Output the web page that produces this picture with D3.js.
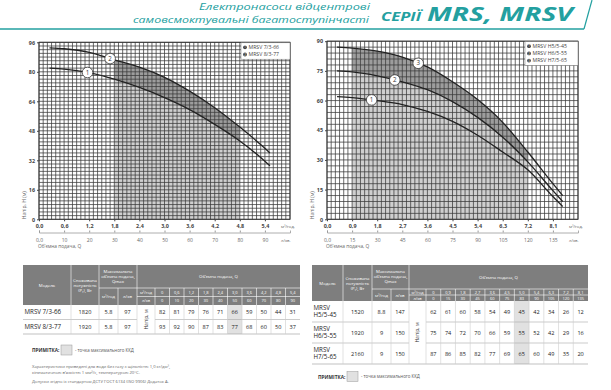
<!DOCTYPE html>
<html>
<head>
<meta charset="utf-8">
<script src="https://cdn.jsdelivr.net/npm/d3@7"></script>
<style>
  body { margin: 0; background: #fff; }
  svg text { font-family: 'Open Sans', sans-serif; }
</style>
</head>
<body>
<div id="chart"></div>
<script>
// ---- left block: MRSV 7/3-66, 8/3-77
const leftModels = ['MRSV 7/3-66', 'MRSV 8/3-77'];
const leftPower = ['1820', '1920'];
const leftQmaxM3 = ['5.8', '5.8'];
const leftQmaxL = ['97', '97'];
const leftQm3 = ['0', '0,6', '1,2', '1,8', '2,4', '3,0', '3,6', '4,2', '4,8', '5,4'];
const leftQl = ['0', '10', '20', '30', '40', '50', '60', '70', '80', '90'];
const leftHead = [
  [82, 81, 79, 76, 71, 66, 59, 50, 44, 31],
  [93, 92, 90, 87, 83, 77, 68, 60, 50, 37]
];
// curves
const leftCurveQ = [0.25, 0.6, 1.2, 1.8, 2.4, 3.0, 3.6, 4.2, 4.8, 5.4, 5.52];
const leftCurveH = [
  [82, 81.5, 79.5, 76, 71.5, 66, 59.5, 51.5, 42.5, 31.5, 29],
  [93, 92.5, 90.5, 86.5, 82.5, 77, 69.5, 60.5, 50, 38.5, 36]
];
const leftLabelQ = [1.16, 1.70];
const leftXTicks = [0, 0.6, 1.2, 1.8, 2.4, 3.0, 3.6, 4.2, 4.8, 5.4];
const leftLTicks = [0, 10, 20, 30, 40, 50, 60, 70, 80, 90];
const leftYTicks = [0, 16, 32, 48, 64, 80, 96];

// ---- right block: MRSV H5/5-45, H6/5-55, H7/5-65
const rightModels = [['MRSV', 'H5/5-45'], ['MRSV', 'H6/5-55'], ['MRSV', 'H7/5-65']];
const rightPower = ['1520', '1920', '2160'];
const rightQmaxM3 = ['8.8', '9', '9'];
const rightQmaxL = ['147', '150', '150'];
const rightQm3 = ['0', '0,9', '1,8', '2,7', '3,6', '4,5', '5,0', '5,4', '6,3', '7,2', '8,1'];
const rightQl = ['0', '15', '30', '45', '60', '75', '83', '90', '105', '120', '135'];
const rightHead = [
  [62, 61, 60, 58, 54, 49, 45, 42, 34, 26, 12],
  [75, 74, 72, 70, 66, 59, 55, 52, 42, 29, 16],
  [87, 86, 85, 82, 77, 69, 65, 60, 49, 35, 20]
];
const rightCurveQ = [0.36, 0.9, 1.8, 2.7, 3.6, 4.5, 5.4, 6.3, 7.2, 8.1, 8.45];
const rightCurveH = [
  [62, 61.5, 60, 58, 54.5, 49.5, 42.5, 34, 25, 11.5, 6.5],
  [75, 74.5, 72.5, 69.5, 65.5, 59.5, 51.5, 41.5, 29, 14.5, 9],
  [87, 86.5, 85, 82, 77, 69.5, 60.5, 49, 34, 18, 12]
];
const rightLabelQ = [1.60, 2.43, 3.27];
const rightXTicks = [0, 0.9, 1.8, 2.7, 3.6, 4.5, 5.4, 6.3, 7.2, 8.1];
const rightLTicks = [0, 15, 30, 45, 60, 75, 90, 105, 120, 135];
const rightYTicks = [0, 15, 30, 45, 60, 75, 90];

const teal = '#23a0a0';
const svg = d3.select('#chart').append('svg')
  .attr('width', 611)
  .attr('height', 390);

// ---- page header
svg.append('text').attr('x', 370).attr('y', 10).attr('text-anchor', 'end')
  .attr('font-style', 'italic').attr('font-size', 9.3).attr('fill', teal)
  .attr('textLength', 171).attr('lengthAdjust', 'spacingAndGlyphs')
  .text('Електронасоси відцентрові');
svg.append('text').attr('x', 369).attr('y', 22.7).attr('text-anchor', 'end')
  .attr('font-style', 'italic').attr('font-size', 9.3).attr('fill', teal)
  .attr('textLength', 236).attr('lengthAdjust', 'spacingAndGlyphs')
  .text('самовсмоктувальні багатоступінчасті');
svg.append('text').attr('x', 381).attr('y', 20.5)
  .attr('font-style', 'italic').attr('font-weight', 'bold').attr('font-size', 12).attr('fill', teal)
  .attr('textLength', 40).attr('lengthAdjust', 'spacingAndGlyphs')
  .text('СЕРІЇ');
svg.append('text').attr('x', 427).attr('y', 20.5)
  .attr('font-style', 'italic').attr('font-weight', 'bold').attr('font-size', 20).attr('fill', teal)
  .attr('textLength', 146).attr('lengthAdjust', 'spacingAndGlyphs')
  .text('MRS, MRSV');
svg.append('line').attr('x1', 0).attr('x2', 584).attr('y1', 29).attr('y2', 29)
  .attr('stroke', teal).attr('stroke-width', 1.5);
svg.append('line').attr('x1', 592).attr('x2', 584).attr('y1', 0).attr('y2', 29)
  .attr('stroke', teal).attr('stroke-width', 1.2);

const fmtQ = (d) => (d === 0 ? '0,0' : d3.format('.1f')(d).replace('.', ','));
const fmtL = (d) => (d === 0 ? '0,0' : String(d));

// interpolate a curve height at q (for placing the number badges)
const curveAt = (qs, hs, q) => {
  const i = d3.bisectRight(qs, q) - 1;
  const t = (q - qs[i]) / (qs[i + 1] - qs[i]);
  return hs[i] + t * (hs[i + 1] - hs[i]);
};

const drawPerf = (o) => {
  const bottom = 219.3;
  const x = d3.scaleLinear().domain([0, o.xMax]).range([o.left, o.right]);
  const y = d3.scaleLinear().domain([0, o.yMax]).range([bottom, o.top]);
  const xl = d3.scaleLinear().domain([0, o.lMax]).range([o.left, o.right]);
  const g = svg.append('g');

  g.append('clipPath').attr('id', o.id)
    .append('rect')
    .attr('x', x(o.band[0])).attr('y', o.top)
    .attr('width', x(o.band[1]) - x(o.band[0]))
    .attr('height', bottom - o.top);

  const n = o.curveH.length;
  const pts = o.curveQ.map((q, i) => ({ q, lo: o.curveH[n - 2][i], hi: o.curveH[n - 1][i] }));
  g.append('path').datum(pts).attr('clip-path', `url(#${o.id})`)
    .attr('fill', '#cfcfcf')
    .attr('d', d3.area().curve(d3.curveMonotoneX).x((d) => x(d.q)).y0(y(0)).y1((d) => y(d.lo)));
  g.append('path').datum(pts).attr('clip-path', `url(#${o.id})`)
    .attr('fill', '#9d9d9d')
    .attr('d', d3.area().curve(d3.curveMonotoneX).x((d) => x(d.q)).y0((d) => y(d.lo)).y1((d) => y(d.hi)));

  // grid
  g.append('g').selectAll('line').data(d3.range(o.nx + 1)).enter().append('line')
    .attr('x1', (i) => x(i * o.xMax / o.nx)).attr('x2', (i) => x(i * o.xMax / o.nx))
    .attr('y1', o.top).attr('y2', bottom)
    .attr('stroke', '#3a3a3a').attr('stroke-width', 0.75);
  g.append('g').selectAll('line').data(d3.range(o.ny + 1)).enter().append('line')
    .attr('y1', (i) => y(i * o.yMax / o.ny)).attr('y2', (i) => y(i * o.yMax / o.ny))
    .attr('x1', o.left).attr('x2', o.right)
    .attr('stroke', '#3a3a3a').attr('stroke-width', 0.75);
  g.append('rect').attr('x', o.left).attr('y', o.top)
    .attr('width', o.right - o.left).attr('height', bottom - o.top)
    .attr('fill', 'none').attr('stroke', '#333').attr('stroke-width', 0.9);

  // curves
  const line = d3.line().curve(d3.curveMonotoneX).x((d) => x(d[0])).y((d) => y(d[1]));
  o.curveH.forEach((hs) => {
    g.append('path').datum(o.curveQ.map((q, i) => [q, hs[i]]))
      .attr('fill', 'none').attr('stroke', '#222').attr('stroke-width', 1.3)
      .attr('d', line);
  });
  o.labelQ.forEach((q, k) => {
    const cx = x(q);
    const cy = y(curveAt(o.curveQ, o.curveH[k], q));
    g.append('circle').attr('cx', cx).attr('cy', cy).attr('r', 5.3)
      .attr('fill', '#fff').attr('stroke', '#333').attr('stroke-width', 0.8);
    g.append('text').attr('x', cx).attr('y', cy + 2.1).attr('text-anchor', 'middle')
      .attr('font-size', 6.2).attr('fill', '#333').text(k + 1);
  });

  // legend
  const lg = g.append('g');
  const lh = o.legend.length * 7.2 + 2;
  lg.append('rect').attr('x', o.legendX).attr('y', o.top + 0.5)
    .attr('width', o.right - o.legendX).attr('height', lh)
    .attr('fill', '#fff').attr('stroke', '#777').attr('stroke-width', 0.5);
  o.legend.forEach((t, i) => {
    const ly = o.top + 5 + i * 7.2;
    lg.append('circle').attr('cx', o.legendX + 4).attr('cy', ly).attr('r', 1.9).attr('fill', '#444');
    lg.append('text').attr('x', o.legendX + 4).attr('y', ly + 1.1).attr('text-anchor', 'middle')
      .attr('font-size', 2.6).attr('fill', '#fff').text(i + 1);
    lg.append('text').attr('x', o.legendX + 7.5).attr('y', ly + 1.8)
      .attr('font-size', 5.2).attr('fill', '#444').text(t);
  });

  // axes
  const yAx = g.append('g').attr('transform', `translate(${o.left},0)`)
    .call(d3.axisLeft(y).tickValues(o.yTicks).tickSize(2).tickPadding(2).tickFormat((d) => d));
  const xAx = g.append('g').attr('transform', `translate(0,${bottom})`)
    .call(d3.axisBottom(x).tickValues(o.xTicks).tickSize(2).tickPadding(3).tickFormat(fmtQ));
  [yAx, xAx].forEach((a) => {
    a.select('.domain').remove();
    a.selectAll('line').attr('stroke', '#444');
    a.selectAll('text').attr('font-size', 5.4).attr('font-weight', 'bold').attr('fill', '#444')
      .attr('font-family', 'DejaVu Sans Condensed, sans-serif');
  });
  const lAx = g.append('g').attr('transform', `translate(0,${bottom + 13.2})`)
    .call(d3.axisBottom(xl).tickValues(o.lTicks).tickSize(-2).tickPadding(5.5).tickFormat(fmtL));
  lAx.select('.domain').attr('stroke', '#999').attr('stroke-width', 0.8);
  lAx.selectAll('line').attr('stroke', '#999');
  lAx.selectAll('text').attr('font-size', 5).attr('fill', '#666')
    .attr('font-family', 'DejaVu Sans Condensed, sans-serif');

  g.append('text').attr('x', o.right - 9).attr('y', bottom + 9)
    .attr('font-size', 4.2).attr('fill', '#555').text('м³/год.');
  g.append('text').attr('x', o.right - 9).attr('y', bottom + 23)
    .attr('font-size', 4.2).attr('fill', '#666').text('л/хв.');
  g.append('text').attr('x', o.left - 1).attr('y', bottom + 29)
    .attr('font-size', 4.8).attr('fill', '#666').text('Об\u2019ємна подача, Q');
  g.append('text').attr('transform', `translate(${o.left - 13},${bottom}) rotate(-90)`)
    .attr('font-size', 5).attr('fill', '#666').text('Напір, H (м)');
};

drawPerf({
  id: 'clipL', left: 39, right: 290, top: 42.3, xMax: 6, yMax: 96, lMax: 100,
  nx: 60, ny: 48, band: [1.8, 4.8],
  curveQ: leftCurveQ, curveH: leftCurveH, labelQ: leftLabelQ,
  xTicks: leftXTicks, lTicks: leftLTicks, yTicks: leftYTicks,
  legend: leftModels, legendX: 241
});
drawPerf({
  id: 'clipR', left: 327, right: 578, top: 41.2, xMax: 9, yMax: 90, lMax: 150,
  nx: 60, ny: 30, band: [0.9, 7.2],
  curveQ: rightCurveQ, curveH: rightCurveH, labelQ: rightLabelQ,
  xTicks: rightXTicks, lTicks: rightLTicks, yTicks: rightYTicks,
  legend: rightModels.map((m) => m.join(' ')), legendX: 525
});

// ---- tables
const headFill = '#7e7e7e';
const drawTable = (t) => {
  const g = svg.append('g').attr('font-family', 'DejaVu Sans Condensed, sans-serif');
  const [c0, c1, c2, c3, c4, c5] = t.cols;
  const nv = t.qm3.length;
  const cw = (t.right - c5) / nv;
  const yTop = t.top; const ySub1 = t.sub1; const ySub2 = t.sub2; const yBody = t.body;
  const yEnd = yBody + t.rowH * t.models.length;

  g.append('rect').attr('x', c0).attr('y', yTop).attr('width', t.right - c0).attr('height', yBody - yTop)
    .attr('fill', headFill);
  const wl = (x1, y1, x2, y2) => g.append('line').attr('x1', x1).attr('y1', y1).attr('x2', x2).attr('y2', y2)
    .attr('stroke', '#fff').attr('stroke-width', 0.6);
  [c1, c2, c4].forEach((cx) => wl(cx, yTop, cx, yBody));
  wl(c3, ySub1, c3, yBody);
  d3.range(nv).forEach((i) => wl(c5 + i * cw, ySub1, c5 + i * cw, yBody));
  wl(c2, ySub1, t.right, ySub1);
  wl(c4, ySub2, t.right, ySub2);

  const ht = (x, y, s, size = 4.3) => g.append('text').attr('x', x).attr('y', y).attr('text-anchor', 'middle')
    .attr('font-size', size).attr('fill', '#fff').text(s);
  ht((c0 + c1) / 2, (yTop + yBody) / 2 + 1.5, 'Модель');
  ht((c1 + c2) / 2, (yTop + yBody) / 2 - 3.5, 'Споживана');
  ht((c1 + c2) / 2, (yTop + yBody) / 2 + 1.5, 'потужність');
  ht((c1 + c2) / 2, (yTop + yBody) / 2 + 6.5, '(P₁), Вт');
  const mq = (yTop + ySub1) / 2;
  ht((c2 + c4) / 2, mq - 4, 'Максимальна');
  ht((c2 + c4) / 2, mq + 1, 'об\u2019ємна подача,');
  ht((c2 + c4) / 2, mq + 6, 'Qmax');
  ht((c2 + c3) / 2, (ySub1 + yBody) / 2 + 1.5, 'м³/год');
  ht((c3 + c4) / 2, (ySub1 + yBody) / 2 + 1.5, 'л/хв');
  ht((c4 + t.right) / 2, mq + 1.5, 'Об\u2019ємна подача, Q');
  ht((c4 + c5) / 2, (ySub1 + ySub2) / 2 + 1.5, 'м³/год', 4);
  ht((c4 + c5) / 2, (ySub2 + yBody) / 2 + 1.5, 'л/хв', 4);
  t.qm3.forEach((s, i) => ht(c5 + (i + 0.5) * cw, (ySub1 + ySub2) / 2 + 1.5, s, 4));
  t.ql.forEach((s, i) => ht(c5 + (i + 0.5) * cw, (ySub2 + yBody) / 2 + 1.5, s, 4));

  // body
  g.append('rect').attr('x', c5 + t.best * cw).attr('y', yBody).attr('width', cw).attr('height', yEnd - yBody)
    .attr('fill', '#e1e1e1');
  const gl = (x1, y1, x2, y2, c) => g.append('line').attr('x1', x1).attr('y1', y1).attr('x2', x2).attr('y2', y2)
    .attr('stroke', c).attr('stroke-width', 0.6);
  t.models.forEach((m, r) => {
    const y0 = yBody + r * t.rowH;
    const yc = y0 + t.rowH / 2;
    if (r > 0) {
      gl(c0, y0, c4, y0, '#aaa');
      gl(c5, y0, t.right, y0, '#aaa');
    }
    const lines = Array.isArray(m) ? m : [m];
    lines.forEach((s, k) => {
      g.append('text').attr('x', c0 + 1.5).attr('y', yc + 2.1 + (k - (lines.length - 1) / 2) * 7.6)
        .attr('font-size', 6.2).attr('fill', '#222').attr('font-family', 'Open Sans, sans-serif').text(s);
    });
    const bt = (x, s) => g.append('text').attr('x', x).attr('y', yc + 2)
      .attr('text-anchor', 'middle').attr('font-size', 5.6).attr('fill', '#222')
      .attr('font-family', 'Open Sans, sans-serif').text(s);
    bt((c1 + c2) / 2, t.power[r]);
    bt((c2 + c3) / 2, t.qmaxM3[r]);
    bt((c3 + c4) / 2, t.qmaxL[r]);
    t.head[r].forEach((v, i) => bt(c5 + (i + 0.5) * cw, v));
  });
  gl(c0, yEnd, t.right, yEnd, '#999');
  [c1, c2, c3, c4, c5].forEach((cx) => gl(cx, yBody, cx, yEnd, '#ccc'));
  d3.range(1, nv).forEach((i) => gl(c5 + i * cw, yBody, c5 + i * cw, yEnd, '#ccc'));
  g.append('text')
    .attr('transform', `translate(${(c4 + c5) / 2 + 1.8},${(yBody + yEnd) / 2}) rotate(-90)`)
    .attr('text-anchor', 'middle').attr('font-size', 5).attr('fill', '#333').text('Напір, м');

  // note
  g.append('text').attr('x', t.noteX).attr('y', t.noteY + 2)
    .attr('font-size', 4.8).attr('font-weight', 'bold').attr('fill', '#333').text('ПРИМІТКА:');
  g.append('rect').attr('x', t.noteX + 29).attr('y', t.noteY - 5).attr('width', 11).attr('height', 10)
    .attr('fill', '#e1e1e1').attr('stroke', '#999').attr('stroke-width', 0.5);
  g.append('text').attr('x', t.noteX + 43).attr('y', t.noteY + 1.8)
    .attr('font-size', 4.4).attr('fill', '#555').text('- точка максимального ККД');
};

drawTable({
  cols: [23, 71, 99, 118, 137, 155], right: 300,
  top: 265, sub1: 288, sub2: 296.5, body: 305, rowH: 14.5,
  models: leftModels, power: leftPower, qmaxM3: leftQmaxM3, qmaxL: leftQmaxL,
  qm3: leftQm3, ql: leftQl, head: leftHead, best: 5,
  noteX: 32, noteY: 350
});
drawTable({
  cols: [312, 343, 372, 391, 409, 426], right: 588,
  top: 265, sub1: 289, sub2: 295, body: 301, rowH: 21,
  models: rightModels, power: rightPower, qmaxM3: rightQmaxM3, qmaxL: rightQmaxL,
  qm3: rightQm3, ql: rightQl, head: rightHead, best: 6,
  noteX: 318, noteY: 376.5
});

// footnotes
const notes = [
  ['Характеристики приведені для води без газу з щільністю 1,0 кг/дм³,', 368],
  ['кінематичною в\u2019язкістю 1 мм²/с, температурою 20°С.', 373.5],
  ['Допуски згідно із стандартом ДСТУ ГОСТ 6134 (ISO 9906) Додаток А.', 382.5]
];
notes.forEach(([s, yy]) => {
  svg.append('text').attr('x', 32).attr('y', yy).attr('font-size', 4.2)
    .attr('fill', '#666').text(s);
});
</script>
</body>
</html>
